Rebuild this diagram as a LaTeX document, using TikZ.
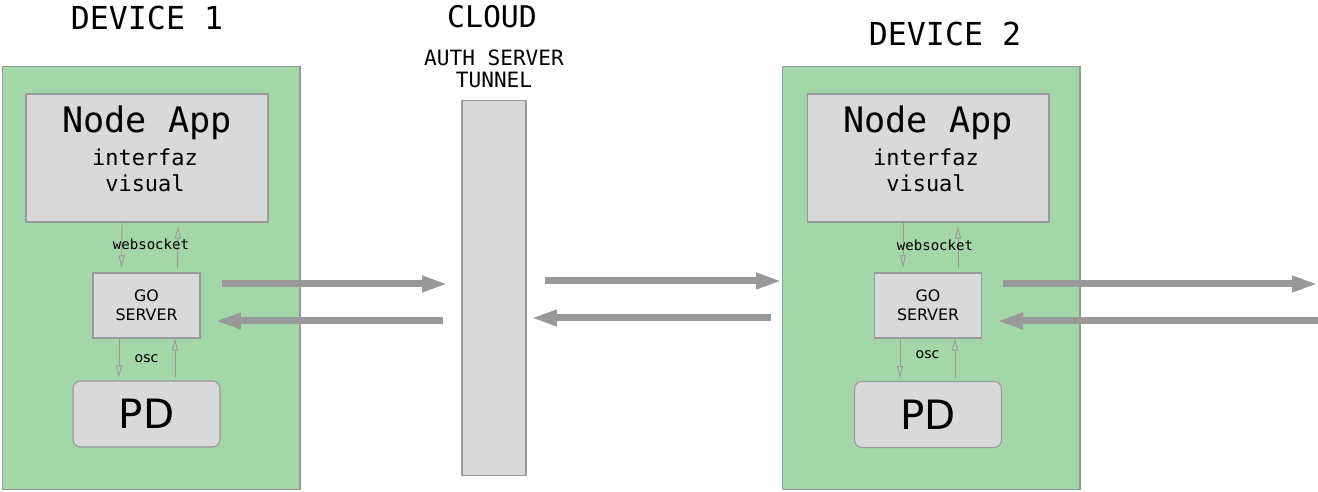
\documentclass[tikz,border=0pt]{standalone}
\usepackage{fontspec}
\usepackage{tikz}
\usetikzlibrary{arrows.meta}
\newfontfamily\devmono{DejaVu Sans Mono}
\newfontfamily\devsans{DejaVu Sans}
\definecolor{devgreen}{HTML}{A3D6A8}
\definecolor{boxgray}{HTML}{D9D9D9}
\definecolor{linegray}{HTML}{999999}

\begin{document}
\begin{tikzpicture}[x=0.02cm,y=-0.02cm]
		\tikzstyle{DeviceStyle}=[draw=linegray,fill=devgreen,line width=0.6pt,minimum width=5.96cm,minimum height=8.48cm]
		\tikzstyle{BoxStyle}=[draw=linegray,fill=boxgray,line width=0.6pt,inner sep=0pt]
		\tikzstyle{WireStyle}=[draw=linegray,line width=0.5pt,-{Triangle[open,length=0.24cm,width=0.12cm]}]
		\tikzstyle{PipeStyle}=[draw=linegray,line width=0.14cm,-{Triangle[length=0.52cm,width=0.3cm]}]
		\tikzstyle{TitleStyle}=[anchor=base,inner sep=0pt,font=\devmono\fontsize{18}{22}\selectfont]
		\tikzstyle{LabelStyle}=[anchor=base,inner sep=0pt,font=\devmono\fontsize{8}{10}\selectfont]
		\useasboundingbox (0,0) rectangle (1318,492);
		% titles
		\node[TitleStyle] (dev1title) at (147,30) {DEVICE 1};
		\node[TitleStyle] (dev2title) at (945,46) {DEVICE 2};
		\node[TitleStyle,font=\devmono\fontsize{17}{20}\selectfont] (cloudtitle) at (492,28) {CLOUD};
		\node[TitleStyle,align=center,font=\devmono\fontsize{12}{13}\selectfont] (cloudsub) at (494,88) {AUTH SERVER\\TUNNEL};
		% device 1
		\node[DeviceStyle] (dev1) at (151,278) {};
		\node[BoxStyle,minimum width=4.84cm,minimum height=2.56cm] (app1) at (147,158) {};
		\node[anchor=base,font=\devmono\fontsize{20}{24}\selectfont] (app1name) at (147,133) {Node App};
		\node[anchor=base,align=center,font=\devmono\fontsize{12.5}{15.3}\selectfont] (app1ui) at (145,192) {interfaz\\visual};
		\node[BoxStyle,minimum width=2.14cm,minimum height=1.3cm,align=center,font=\devsans\fontsize{9}{11}\selectfont] (go1) at (146.5,305.5) {GO\\SERVER};
		\node[BoxStyle,rounded corners=0.15cm,minimum width=2.94cm,minimum height=1.32cm,font=\devsans\fontsize{23}{26}\selectfont] (pd1) at (146.5,414) {PD};
		\draw[WireStyle,shorten >=0.1cm] ([xshift=-0.5cm]app1.south) -- ([xshift=-0.5cm]go1.north);
		\draw[WireStyle,shorten <=0.08cm,shorten >=0.08cm] ([xshift=0.62cm]go1.north) -- ([xshift=0.62cm]app1.south);
		\node[LabelStyle] (ws1) at (151,250) {websocket};
		\draw[WireStyle,shorten >=0.06cm] ([xshift=-0.55cm]go1.south) -- ([xshift=-0.55cm]pd1.north);
		\draw[WireStyle,shorten <=0.06cm] ([xshift=0.57cm]pd1.north) -- ([xshift=0.57cm]go1.south);
		\node[LabelStyle,font=\devsans\fontsize{8}{10}\selectfont] (osc1) at (146.5,363) {osc};
		% cloud
		\node[BoxStyle,minimum width=1.28cm,minimum height=7.52cm] (cloud) at (494,288) {};
		% device 2
		\node[DeviceStyle] (dev2) at (931,278) {};
		\node[BoxStyle,minimum width=4.84cm,minimum height=2.56cm] (app2) at (928,158) {};
		\node[anchor=base,font=\devmono\fontsize{20}{24}\selectfont] (app2name) at (928,133) {Node App};
		\node[anchor=base,align=center,font=\devmono\fontsize{12.5}{15.3}\selectfont] (app2ui) at (926,192) {interfaz\\visual};
		\node[BoxStyle,minimum width=2.14cm,minimum height=1.3cm,align=center,font=\devsans\fontsize{9}{11}\selectfont] (go2) at (928,305.5) {GO\\SERVER};
		\node[BoxStyle,rounded corners=0.15cm,minimum width=2.94cm,minimum height=1.32cm,font=\devsans\fontsize{23}{26}\selectfont] (pd2) at (928,414.5) {PD};
		\draw[WireStyle,shorten >=0.1cm] ([xshift=-0.5cm]app2.south) -- ([xshift=-0.5cm]go2.north);
		\draw[WireStyle,shorten <=0.08cm,shorten >=0.08cm] ([xshift=0.6cm]go2.north) -- ([xshift=0.6cm]app2.south);
		\node[LabelStyle] (ws2) at (935,251) {websocket};
		\draw[WireStyle,shorten >=0.06cm] ([xshift=-0.56cm]go2.south) -- ([xshift=-0.56cm]pd2.north);
		\draw[WireStyle,shorten <=0.06cm] ([xshift=0.54cm]pd2.north) -- ([xshift=0.54cm]go2.south);
		\node[LabelStyle,font=\devsans\fontsize{8}{10}\selectfont] (osc2) at (927.5,359) {osc};
		% links
		\coordinate (go1tx) at (222,284);
		\coordinate (cloudrx1) at (448,284);
		\coordinate (cloudtx1) at (443,321);
		\coordinate (go1rx) at (215,321);
		\coordinate (cloudtx2) at (545,281);
		\coordinate (dev2rx) at (782,281);
		\coordinate (dev2tx) at (771,318);
		\coordinate (cloudrx2) at (531,318);
		\coordinate (go2tx) at (1003,284);
		\coordinate (edgerx) at (1318,284);
		\coordinate (edgetx) at (1318,321);
		\coordinate (go2rx) at (997,321);
		\draw[PipeStyle] (go1tx) -- (cloudrx1);
		\draw[PipeStyle] (cloudtx1) -- (go1rx);
		\draw[PipeStyle] (cloudtx2) -- (dev2rx);
		\draw[PipeStyle] (dev2tx) -- (cloudrx2);
		\draw[PipeStyle] (go2tx) -- (edgerx);
		\draw[PipeStyle] (edgetx) -- (go2rx);
		%  \draw[PipeStyle] (cloud) -- (dev2);
\end{tikzpicture}
\end{document}
